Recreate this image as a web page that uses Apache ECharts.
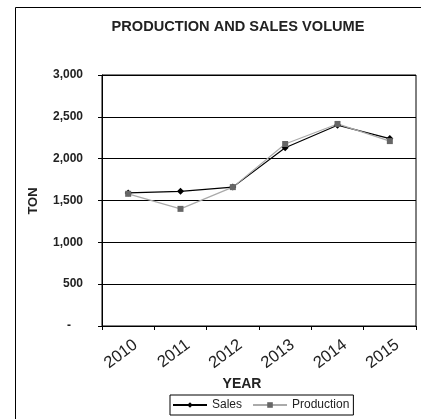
<!DOCTYPE html>
<html><head><meta charset="utf-8">
<script src="https://cdn.jsdelivr.net/npm/echarts@6/dist/echarts.min.js"></script>
<style>html,body{margin:0;padding:0;background:#fff}#c{width:421px;height:419px}</style>
</head><body><div id="c"></div>
<script>
const years = ['2010','2011','2012','2013','2014','2015'];
const sales = [1590, 1610, 1660, 2130, 2400, 2240];
const production = [1580, 1400, 1660, 2175, 2415, 2210];
const yTicks = {min: 0, max: 3000, interval: 500};

const chart = echarts.init(document.getElementById('c'), null, {renderer: 'canvas'});
const F = 'Liberation Sans, Arial, sans-serif';
chart.setOption({
  animation: false,
  backgroundColor: '#fff',
  graphic: [
    {type: 'rect', shape: {x: 15.5, y: 7.5, width: 420, height: 420}, style: {fill: 'none', stroke: '#000', lineWidth: 1}, silent: true},
    {type: 'text', style: {x: 238, y: 27, text: 'PRODUCTION AND SALES VOLUME', font: 'bold 14.6px ' + F, fill: '#222', textAlign: 'center', textVerticalAlign: 'middle'}},
    {type: 'text', style: {x: 242, y: 384, text: 'YEAR', font: 'bold 14px ' + F, fill: '#222', textAlign: 'center', textVerticalAlign: 'middle'}},
    {type: 'text', x: 33, y: 201, rotation: Math.PI/2, style: {x: 0, y: 0, text: 'TON', font: 'bold 13px ' + F, fill: '#222', textAlign: 'center', textVerticalAlign: 'middle'}}
  ],
  legend: {
    left: 170, top: 395,
    itemWidth: 34, itemHeight: 7, itemGap: 10,
    padding: [4, 4, 4, 2],
    borderColor: '#000', borderWidth: 1,
    textStyle: {fontFamily: F, fontSize: 12, color: '#222'},
    data: ['Sales', 'Production']
  },
  grid: {left: 102, right: 5, top: 75, bottom: 93, show: true, borderColor: '#000', borderWidth: 1},
  xAxis: {
    type: 'category', data: years, boundaryGap: true,
    axisLine: {lineStyle: {color: '#000'}},
    axisTick: {show: true, alignWithLabel: false, length: 4, inside: false, lineStyle: {color: '#000'}},
    axisLabel: {rotate: 37, fontFamily: F, fontSize: 16.5, color: '#222', margin: 2, interval: 0,
      verticalAlign: 'top', lineHeight: 33, padding: [0, 3, 0, 0]}
  },
  yAxis: {
    type: 'value', min: yTicks.min, max: yTicks.max, interval: yTicks.interval,
    axisLine: {show: true, lineStyle: {color: '#000'}},
    axisTick: {show: true, length: 4, lineStyle: {color: '#000'}},
    splitLine: {lineStyle: {color: '#000', width: 1}},
    axisLabel: {fontFamily: F, fontSize: 12, fontWeight: 'bold', color: '#222', margin: 19,
      formatter: v => v === 0 ? '{d|-}' : v.toLocaleString('en-US'),
      rich: {d: {fontFamily: F, fontSize: 12, fontWeight: 'bold', color: '#222', padding: [0, 12, 0, 0]}}}
  },
  series: [
    {name: 'Sales', type: 'line', data: sales, symbol: 'diamond', symbolSize: 7,
      lineStyle: {color: '#000', width: 1.2}, itemStyle: {color: '#000'}},
    {name: 'Production', type: 'line', data: production, symbol: 'rect', symbolSize: 6,
      lineStyle: {color: '#aaa', width: 1.2}, itemStyle: {color: '#666'}}
  ]
});
</script></body></html>
